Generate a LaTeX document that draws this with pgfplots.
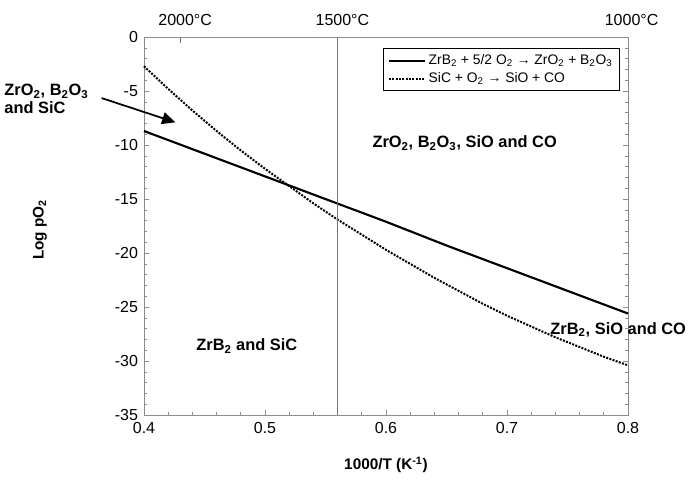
\documentclass[border=0pt]{standalone}
\usepackage{pgfplots}
\pgfplotsset{compat=1.18}
\usepackage{fontspec}
\setmainfont{Liberation Sans}
\usetikzlibrary{arrows.meta}

\begin{document}
\begin{tikzpicture}
\begin{axis}[
    width=363pt, height=283.5pt, scale only axis,
    xmin=0.4, xmax=0.8, ymin=-35, ymax=0,
    xtick={0.4,0.5,0.6,0.7,0.8},
    ytick={-35,-30,-25,-20,-15,-10,-5,0},
    minor x tick num=4, minor y tick num=4,
    xtick pos=left, ytick pos=both,
    tick align=inside,
    major tick length=4pt, minor tick length=2.5pt,
    tick style={black!45, line width=0.5pt},
    axis line style={black!45, line width=0.7pt},
    x tick label style={yshift=-2pt, /pgf/number format/.cd, fixed, fixed zerofill, precision=1},
    y tick label style={xshift=-1pt},
    /pgf/number format/assume math mode=true,
    tick label style={font=\fontsize{12}{14}\selectfont},
    xlabel={\textbf{1000/T (K\textsuperscript{-1})}},
    ylabel={\textbf{Log pO\textsubscript{2}}},
    label style={font=\fontsize{11.5}{14}\selectfont},
    xlabel style={at={(rel axis cs:0.5,-0.132)}, anchor=center},
    ylabel style={at={(rel axis cs:-0.215,0.49)}, anchor=center, rotate=0},
    clip=false,
    legend cell align=left,
    legend image code/.code={\draw[#1, line width=1.5pt] (0cm,0cm) -- (0.95cm,0cm);},
    legend style={at={(rel axis cs:0.984,0.971)}, anchor=north east,
        draw=black, line width=0.8pt, font=\fontsize{10.4}{12}\selectfont,
        inner xsep=3.5pt, inner ysep=2.5pt, row sep=0.5pt},
]
% solid: ZrB2 + 5/2 O2 -> ZrO2 + B2O3
\addplot[black, line width=1.6pt] coordinates {
    (0.40,-8.7) (0.45,-10.8) (0.50,-12.9) (0.55,-15.0) (0.60,-17.1)
    (0.65,-19.3) (0.70,-21.4) (0.75,-23.5) (0.80,-25.6)
};
\addlegendentry{ZrB\textsubscript{2} + 5/2 O\textsubscript{2} → ZrO\textsubscript{2} + B\textsubscript{2}O\textsubscript{3}}
% dotted: SiC + O2 -> SiO + CO
\addplot[black, line width=1.5pt, densely dotted] coordinates {
    (0.40,-2.7) (0.42,-4.8) (0.44,-6.8) (0.46,-8.7) (0.48,-10.5)
    (0.50,-12.2) (0.52,-13.8) (0.54,-15.4) (0.56,-16.9) (0.58,-18.3)
    (0.60,-19.7) (0.62,-21.0) (0.64,-22.3) (0.66,-23.5) (0.68,-24.7)
    (0.70,-25.8) (0.72,-26.8) (0.74,-27.8) (0.76,-28.7) (0.78,-29.6)
    (0.80,-30.4)
};
\addlegendentry{SiC + O\textsubscript{2} → SiO + CO}
% 1500 C marker
\addplot[black!55, line width=1pt, forget plot] coordinates {(0.56,0) (0.56,-35)};
\draw[black!55, line width=0.7pt] (axis cs:0.43,0) -- (axis cs:0.43,-0.55);

% temperature labels
\node[font=\fontsize{12}{14}\selectfont] at (axis cs:0.434,1.6) {2000°C};
\node[font=\fontsize{12}{14}\selectfont] at (axis cs:0.564,1.6) {1500°C};
\node[font=\fontsize{12}{14}\selectfont] at (axis cs:0.803,1.6) {1000°C};

% region labels
\node[font=\bfseries\fontsize{12.3}{14}\selectfont] at (axis cs:0.665,-9.8)
    {ZrO\textsubscript{2}, B\textsubscript{2}O\textsubscript{3}, SiO and CO};
\node[font=\bfseries\fontsize{12.3}{14}\selectfont] at (axis cs:0.485,-28.6)
    {ZrB\textsubscript{2} and SiC};
\node[font=\bfseries\fontsize{12.3}{14}\selectfont, anchor=west] at (axis cs:0.732,-27.1)
    {ZrB\textsubscript{2}, SiO and CO};
\node[font=\bfseries\fontsize{12.3}{13.5}\selectfont, anchor=west, align=left]
    at (rel axis cs:-0.298,0.836)
    {ZrO\textsubscript{2}, B\textsubscript{2}O\textsubscript{3}\\and SiC};
\draw[line width=1.3pt, -{Triangle[length=10pt, width=9pt]}]
    (axis cs:0.365,-5.65) -- (axis cs:0.426,-7.9);

\coordinate (bl) at (rel axis cs:-0.2975,-0.185);
\coordinate (tr) at (rel axis cs:1.1405,1.098);
\end{axis}
\pgfresetboundingbox
\path[use as bounding box] (bl) rectangle (tr);
\end{tikzpicture}
\end{document}
